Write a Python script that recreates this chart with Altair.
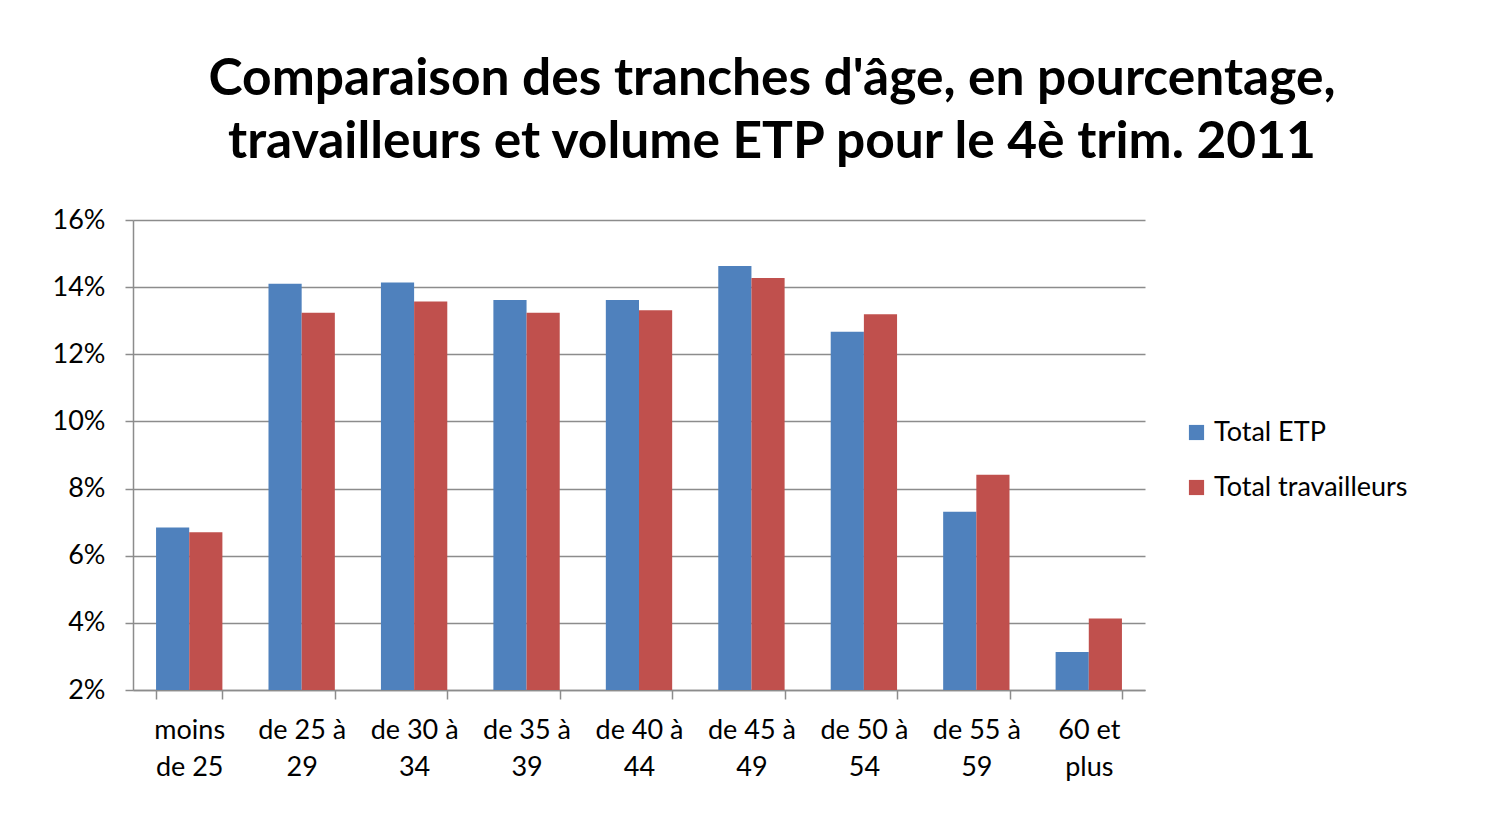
import altair as alt
import pandas as pd

categories = ["moins\nde 25", "de 25 à\n29", "de 30 à\n34", "de 35 à\n39", "de 40 à\n44",
              "de 45 à\n49", "de 50 à\n54", "de 55 à\n59", "60 et\nplus"]
total_etp = [6.84, 14.10, 14.14, 13.62, 13.62, 14.63, 12.67, 7.31, 3.13]
total_travailleurs = [6.70, 13.24, 13.57, 13.24, 13.31, 14.27, 13.19, 8.41, 4.13]
series = ["Total ETP", "Total travailleurs"]
colors = ["#4F81BD", "#C0504D"]
y_ticks = [2, 4, 6, 8, 10, 12, 14, 16]

rows = []
for c, a, b in zip(categories, total_etp, total_travailleurs):
    rows.append({"cat": c, "serie": series[0], "val": a})
    rows.append({"cat": c, "serie": series[1], "val": b})
df = pd.DataFrame(rows)

FONT = "Lato"

chart = alt.Chart(df).mark_bar(clip=True).encode(
    x=alt.X("cat:N", sort=categories, title=None,
            scale=alt.Scale(paddingInner=0.41, paddingOuter=0.205),
            axis=alt.Axis(labelExpr="split(datum.label, '\\n')", labelAngle=0,
                          labelFontSize=27, labelFont=FONT, labelColor="#000000",
                          labelLineHeight=37, labelPadding=18, labelBaseline="top",
                          tickBand="extent", tickSize=9, tickColor="#8c8c8c",
                          domainColor="#8c8c8c", domainWidth=1.5, tickWidth=1.5,
                          grid=False)),
    xOffset=alt.XOffset("serie:N", sort=series),
    y=alt.Y("val:Q", title=None,
            scale=alt.Scale(domain=[2, 16], zero=False, nice=False),
            axis=alt.Axis(values=y_ticks, labelExpr="datum.value + '%'",
                          labelFontSize=27, labelFont=FONT, labelColor="#000000",
                          labelPadding=20, tickSize=8, tickColor="#8c8c8c",
                          domainColor="#8c8c8c", domainWidth=1.5, tickWidth=1.5,
                          gridColor="#8c8c8c", gridWidth=1.5)),
    y2=alt.datum(2),
    color=alt.Color("serie:N", sort=series, title=None,
                    scale=alt.Scale(domain=series, range=colors),
                    legend=alt.Legend(orient="none", legendX=1050, legendY=199,
                                      labelFontSize=27, labelFont=FONT,
                                      labelColor="#000000", symbolType="square",
                                      symbolSize=230, symbolStrokeWidth=0,
                                      rowPadding=27, labelOffset=4, labelLimit=0)),
).properties(
    width=1012, height=470,
    background="#ffffff",
    title=alt.TitleParams(
        text=["Comparaison des tranches d'âge, en pourcentage,",
              "travailleurs et volume ETP pour le 4è trim. 2011"],
        fontSize=51.5, font=FONT, fontWeight="bold", color="#000000",
        anchor="middle", dx=133, lineHeight=63, offset=38),
    padding={"left": 125, "top": 212, "right": 340, "bottom": 110},
    autosize=alt.AutoSizeParams(type="none"),
).configure_view(stroke=None)

chart.save("out.html", embed_options={"renderer": "svg", "actions": False})
